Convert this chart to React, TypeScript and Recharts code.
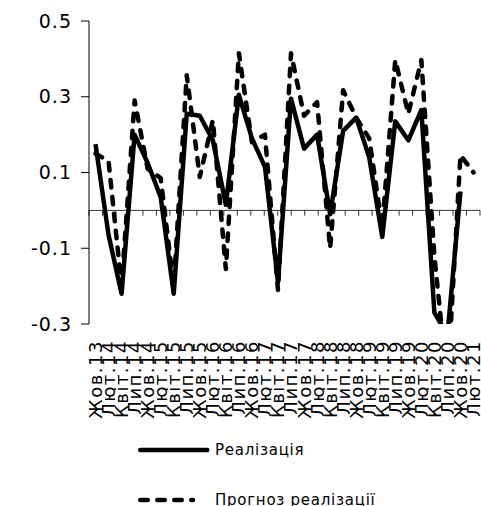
import React from 'react';
import { LineChart, Line, XAxis, YAxis, ReferenceLine, Legend } from 'recharts';

const categories = [
  'Жов.13', 'Лют.14', 'Квіт.14', 'Лип.14', 'Жов.14',
  'Лют.15', 'Квіт.15', 'Лип.15', 'Жов.15',
  'Лют.16', 'Квіт.16', 'Лип.16', 'Жов.16',
  'Лют.17', 'Квіт.17', 'Лип.17', 'Жов.17',
  'Лют.18', 'Квіт.18', 'Лип.18', 'Жов.18',
  'Лют.19', 'Квіт.19', 'Лип.19', 'Жов.19',
  'Лют.20', 'Квіт.20', 'Лип.20', 'Жов.20',
  'Лют.21',
];

const realization: (number | null)[] = [
  0.175, -0.065, -0.22, 0.2, 0.125,
  0.035, -0.22, 0.255, 0.25,
  0.185, 0.015, 0.305, 0.19,
  0.115, -0.19, 0.295, 0.163,
  0.2, -0.01, 0.21, 0.245,
  0.14, -0.07, 0.235, 0.185,
  0.265, -0.27, -0.33, 0.05,
  null,
];

const forecast: (number | null)[] = [
  0.15, 0.13, -0.2, 0.29, 0.11,
  0.085, -0.2, 0.357, 0.088,
  0.238, -0.155, 0.415, 0.18,
  0.2, -0.21, 0.415, 0.25,
  0.286, -0.1, 0.317, 0.245,
  0.19, -0.045, 0.397, 0.255,
  0.397, -0.12, -0.46, 0.146,
  0.1,
];

const yTicks = [-0.3, -0.1, 0.1, 0.3, 0.5];
const yDomain: [number, number] = [-0.3, 0.5];
const seriesNames = ['Реалізація', 'Прогноз реалізації'];

const data = categories.map((label, i) => ({
  label,
  real: realization[i],
  forecast: forecast[i],
}));

const boundaries = Array.from({ length: categories.length + 1 }, (_, k) => k);

const FONT = "'DejaVu Sans', Verdana, sans-serif";
const DASH = '7.5 9.5';

const XTick = (props: any) => {
  const { x, y, payload } = props;
  return (
    <text
      x={x}
      y={y}
      dy="0.36em"
      transform={`rotate(-90, ${x}, ${y})`}
      textAnchor="end"
      fontFamily={FONT}
      fontSize={18}
      letterSpacing={1.5}
      fill="#000"
    >
      {payload.value}
    </text>
  );
};

const LegendContent = (props: any) => {
  const items = ([...(props.payload || [])] as any[]).sort(
    (a, b) => seriesNames.indexOf(a.value) - seriesNames.indexOf(b.value)
  );
  return (
    <div style={{ fontFamily: FONT, fontSize: 15, letterSpacing: 0.75, color: '#000' }}>
      {items.map((it, idx) => {
        const dashed = !!(it.payload && it.payload.strokeDasharray);
        return (
          <div
            key={idx}
            style={{
              display: 'flex',
              alignItems: 'center',
              height: 20,
              marginTop: idx === 0 ? 0 : 30.5,
              whiteSpace: 'nowrap',
            }}
          >
            <svg width={79} height={10} style={{ display: 'block' }}>
              <line
                x1={4.25}
                y1={5}
                x2={dashed ? 57 : 71.25}
                y2={5}
                stroke="#000"
                strokeWidth={4.5}
                strokeLinecap="round"
                strokeDasharray={dashed ? DASH : undefined}
              />
            </svg>
            <span>{it.value}</span>
          </div>
        );
      })}
    </div>
  );
};

export default function App() {
  return (
    <div style={{ position: 'absolute', left: 0, top: 0, width: 481, height: 506, background: '#fff' }}>
      <LineChart
        width={481}
        height={506}
        data={data}
        margin={{ top: 21, right: 1, bottom: 0, left: 0 }}
      >
        <XAxis
          dataKey="label"
          scale="band"
          interval={0}
          height={182}
          axisLine={false}
          tickLine={false}
          tickSize={0}
          tickMargin={16}
          tick={<XTick />}
        />
        <XAxis
          xAxisId="grid"
          type="number"
          domain={[0, categories.length]}
          allowDataOverflow
          hide
        />
        <YAxis
          domain={yDomain}
          ticks={yTicks}
          allowDataOverflow
          width={89}
          tickSize={8}
          tickMargin={9}
          stroke="#000"
          tickLine={{ stroke: '#000' }}
          axisLine={{ stroke: '#000' }}
          tick={{ fontFamily: FONT, fontSize: 19, fill: '#000', letterSpacing: 1 }}
          tickFormatter={(v: number) => String(v)}
        />
        <ReferenceLine y={0} stroke="#333" strokeWidth={1} />
        {boundaries.map((k) => (
          <ReferenceLine
            key={`b${k}`}
            xAxisId="grid"
            segment={[{ x: k, y: 0 }, { x: k, y: -0.014 }]}
            stroke="#333"
            strokeWidth={1}
          />
        ))}
        <Line
          dataKey="real"
          name={seriesNames[0]}
          stroke="#000"
          strokeWidth={4.5}
          strokeLinejoin="round"
          dot={false}
          activeDot={false}
          isAnimationActive={false}
        />
        <Line
          dataKey="forecast"
          name={seriesNames[1]}
          stroke="#000"
          strokeWidth={4.5}
          strokeLinejoin="round"
          strokeLinecap="round"
          strokeDasharray={DASH}
          dot={false}
          activeDot={false}
          isAnimationActive={false}
        />
        <Legend
          layout="vertical"
          align="center"
          verticalAlign="middle"
          content={<LegendContent />}
          wrapperStyle={{ left: 136, top: 439.5, width: 320, height: 80 }}
        />
      </LineChart>
    </div>
  );
}
